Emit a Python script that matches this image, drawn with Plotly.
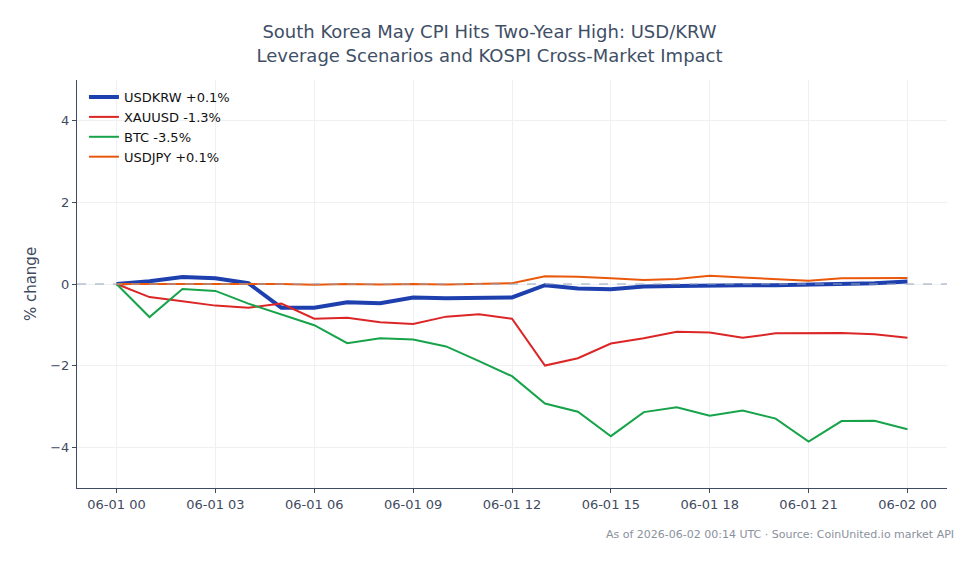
import plotly.graph_objects as go
import pandas as pd

times = pd.date_range("2026-06-01 00:00", periods=25, freq="h")
usdkrw = [0.0, 0.07, 0.17, 0.14, 0.02, -0.58, -0.58, -0.45, -0.47, -0.33, -0.35, -0.34, -0.33,
          -0.03, -0.11, -0.13, -0.06, -0.05, -0.03, -0.03, -0.03, -0.02, -0.01, 0.02, 0.06]
xauusd = [0.0, -0.32, -0.42, -0.53, -0.58, -0.48, -0.85, -0.83, -0.94, -0.98, -0.80, -0.74, -0.85,
          -2.0, -1.82, -1.46, -1.33, -1.17, -1.19, -1.32, -1.21, -1.20, -1.20, -1.23, -1.32]
btc = [0.0, -0.81, -0.12, -0.17, -0.48, -0.74, -1.01, -1.45, -1.33, -1.36, -1.53, -1.89, -2.26,
       -2.93, -3.13, -3.73, -3.14, -3.02, -3.23, -3.10, -3.30, -3.86, -3.36, -3.35, -3.56]
usdjpy = [0.0, 0.0, 0.01, 0.0, 0.0, 0.0, -0.02, 0.0, -0.01, 0.0, -0.01, 0.01, 0.02,
          0.19, 0.18, 0.14, 0.10, 0.12, 0.20, 0.16, 0.12, 0.08, 0.14, 0.14, 0.15]

series = [
    ("USDKRW +0.1%", usdkrw, "#1e40af", 4),
    ("XAUUSD -1.3%", xauusd, "#dc2626", 2),
    ("BTC -3.5%", btc, "#16a34a", 2),
    ("USDJPY +0.1%", usdjpy, "#ea580c", 2),
]

fig = go.Figure()
for name, vals, color, w in series:
    fig.add_trace(go.Scatter(x=times, y=vals, mode="lines", name=name,
                             line=dict(color=color, width=w)))

fig.add_hline(y=0, line=dict(color="#94a3b8", width=1, dash="dash"))

font = "DejaVu Sans"
fig.update_layout(
    width=979, height=564,
    margin=dict(l=77, r=32, t=80, b=76),
    paper_bgcolor="white", plot_bgcolor="white",
    font=dict(family=font, size=13, color="#3f4b5f"),
    title=dict(text="South Korea May CPI Hits Two-Year High: USD/KRW<br>Leverage Scenarios and KOSPI Cross-Market Impact",
               x=0.5, xanchor="center", y=0.932, yanchor="top",
               font=dict(family=font, size=18, color="#3f4f66")),
    showlegend=True,
    legend=dict(x=0.008, y=0.995, xanchor="left", yanchor="top", bgcolor="rgba(0,0,0,0)",
                font=dict(family=font, size=13, color="#111111")),
    xaxis=dict(range=[times[0] - pd.Timedelta(hours=1.2), times[-1] + pd.Timedelta(hours=1.2)],
               tickformat="%m-%d %H", dtick=3 * 3600 * 1000, tick0=times[0],
               showgrid=True, gridcolor="#eef0f3", showline=True, linecolor="#3f4b5f",
               ticks="outside", ticklen=4, tickcolor="#3f4b5f", zeroline=False),
    yaxis=dict(range=[-5, 5], tickvals=[-4, -2, 0, 2, 4],
               showgrid=True, gridcolor="#eef0f3", showline=True, linecolor="#3f4b5f",
               ticks="outside", ticklen=4, tickcolor="#3f4b5f",
               title=dict(text="% change", font=dict(size=15), standoff=9), zeroline=False),
)
fig.add_annotation(text="As of 2026-06-02 00:14 UTC · Source: CoinUnited.io market API",
                   xref="paper", yref="paper", x=1.01, y=-0.093, xanchor="right", yanchor="top",
                   showarrow=False, font=dict(family=font, size=11, color="#8a919c"))
fig.write_html("out.html")
